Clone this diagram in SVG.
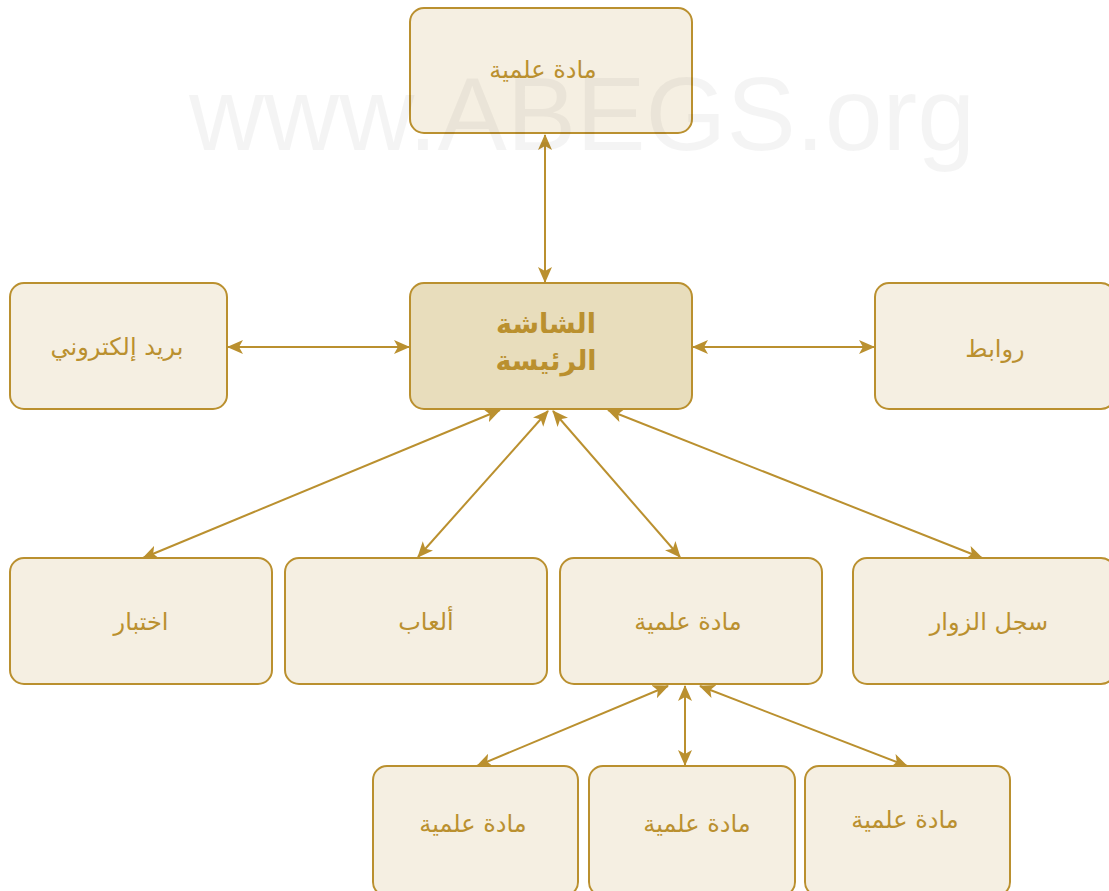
<svg xmlns="http://www.w3.org/2000/svg" width="1109" height="891" viewBox="0 0 1109 891">
<defs>
<style>
.box{fill:#f5efe2;stroke:#ba902f;stroke-width:2}
.main{fill:#e8ddbc;stroke:#ba902f;stroke-width:2}
.t{font-family:"DejaVu Sans",sans-serif;font-size:24px;fill:#ba902f;text-anchor:middle}
.tb{font-family:"DejaVu Sans",sans-serif;font-size:27px;font-weight:bold;fill:#ba902f;text-anchor:middle}
.c{stroke:#ba902f;stroke-width:2;fill:none;marker-start:url(#ah);marker-end:url(#ah)}
.wm{font-family:"Liberation Sans",Arial,sans-serif;font-size:104px;fill:#000;fill-opacity:0.045}
</style>
<marker id="ah" viewBox="0 0 16 14" refX="15" refY="7" markerWidth="16" markerHeight="14" markerUnits="userSpaceOnUse" orient="auto-start-reverse">
<path d="M0,0 L16,7 L0,14 L4,7 Z" fill="#ba902f"/>
</marker>
</defs>
<rect width="1109" height="891" fill="#ffffff"/>
<g id="connectors">
<line class="c" x1="545" y1="135" x2="545" y2="282"/>
<line class="c" x1="228" y1="347" x2="409" y2="347"/>
<line class="c" x1="693" y1="347" x2="874" y2="347"/>
<line class="c" x1="500" y1="410" x2="143" y2="558"/>
<line class="c" x1="548" y1="411" x2="418" y2="557"/>
<line class="c" x1="553" y1="411" x2="680" y2="557"/>
<line class="c" x1="608" y1="410" x2="982" y2="558"/>
<line class="c" x1="668" y1="686" x2="477" y2="766"/>
<line class="c" x1="685" y1="686" x2="685" y2="765"/>
<line class="c" x1="700" y1="686" x2="907" y2="766"/>
</g>
<g id="n-top"><rect class="box" x="410" y="8" width="282" height="125" rx="14"/><text class="t" x="543" y="78">مادة علمية</text></g>
<g id="n-main"><rect class="main" x="410" y="283" width="282" height="126" rx="14"/><text class="tb" x="546" y="333">الشاشة</text><text class="tb" x="546" y="370">الرئيسة</text></g>
<g id="n-mail"><rect class="box" x="10" y="283" width="217" height="126" rx="14"/><text class="t" x="117" y="355">بريد إلكتروني</text></g>
<g id="n-links"><rect class="box" x="875" y="283" width="240" height="126" rx="14"/><text class="t" x="995" y="357">روابط</text></g>
<g id="n-test"><rect class="box" x="10" y="558" width="262" height="126" rx="14"/><text class="t" x="141" y="630">اختبار</text></g>
<g id="n-games"><rect class="box" x="285" y="558" width="262" height="126" rx="14"/><text class="t" x="426" y="630">ألعاب</text></g>
<g id="n-mat"><rect class="box" x="560" y="558" width="262" height="126" rx="14"/><text class="t" x="688" y="630">مادة علمية</text></g>
<g id="n-visitors"><rect class="box" x="853" y="558" width="262" height="126" rx="14"/><text class="t" x="989" y="630">سجل الزوار</text></g>
<g id="n-sub1"><rect class="box" x="373" y="766" width="205" height="130" rx="14"/><text class="t" x="473" y="832">مادة علمية</text></g>
<g id="n-sub2"><rect class="box" x="589" y="766" width="206" height="130" rx="14"/><text class="t" x="697" y="832">مادة علمية</text></g>
<g id="n-sub3"><rect class="box" x="805" y="766" width="205" height="130" rx="14"/><text class="t" x="905" y="828">مادة علمية</text></g>
<text class="wm" x="189" y="150" textLength="786" lengthAdjust="spacingAndGlyphs">www.ABEGS.org</text>
</svg>
